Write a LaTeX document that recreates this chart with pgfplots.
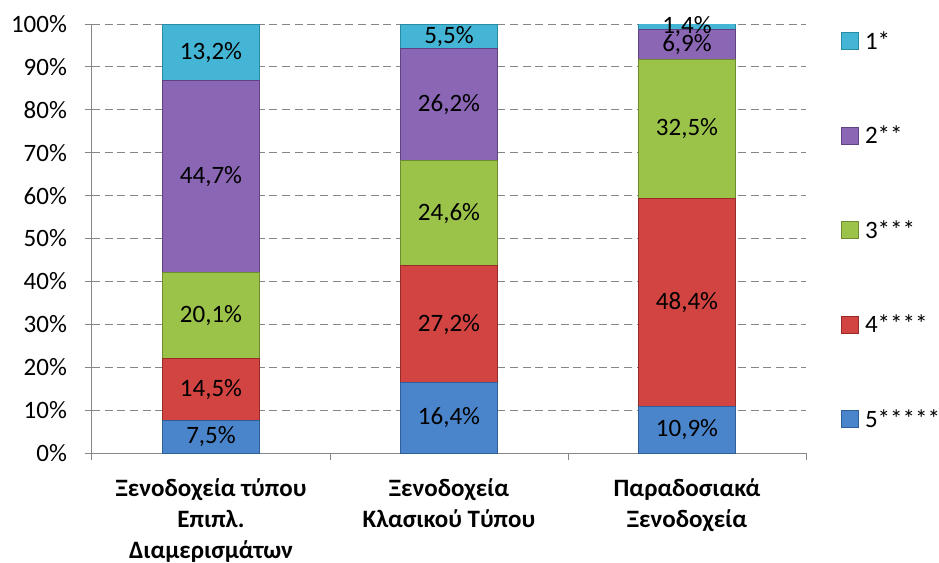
\documentclass[border=0pt]{standalone}
\usepackage{pgfplots}
\usepackage{pgfplotstable}
\pgfplotsset{compat=1.18}
\usepackage{fontspec}
\setmainfont{Carlito}
\definecolor{axgray}{HTML}{868686}
\definecolor{cOne}{HTML}{45B5D5}\definecolor{eOne}{HTML}{2A8BA6}
\definecolor{cTwo}{HTML}{8A66B5}\definecolor{eTwo}{HTML}{5E4380}
\definecolor{cThree}{HTML}{9BC34A}\definecolor{eThree}{HTML}{6E8B2F}
\definecolor{cFour}{HTML}{D14441}\definecolor{eFour}{HTML}{962B28}
\definecolor{cFive}{HTML}{4A85CB}\definecolor{eFive}{HTML}{2F5F98}
\pgfplotstableread{
x s5 s4 s3 s2 s1
0 7.5 14.5 20.1 44.7 13.2
1 16.4 27.2 24.6 26.2 5.5
2 10.9 48.4 32.5 6.9 1.4
}\data
\pgfplotstableread{
x y lab
0 3.75 7,5
0 14.75 14,5
0 32.05 20,1
0 64.45 44,7
0 93.4 13,2
1 8.2 16,4
1 30.0 27,2
1 55.9 24,6
1 81.3 26,2
1 97.15 5,5
2 5.45 10,9
2 35.1 48,4
2 75.55 32,5
2 95.25 6,9
2 99.4 1,4
}\labels
\begin{document}
\begin{tikzpicture}[font=\fontsize{18.75}{24.75}\selectfont]
\pgfplotsset{
  common/.style={
    scale only axis, width=535.5pt, height=321.75pt,
    xmin=-0.5, xmax=2.5, ymin=0, ymax=100,
  }
}
\begin{axis}[
  common, name=ax,
  ybar stacked, bar width=0.408,
  xtick={-0.5,0.5,1.5,2.5}, xticklabels={},
  extra x ticks={0,1,2},
  extra x tick labels={{Ξενοδοχεία τύπου\\Επιπλ.\\Διαμερισμάτων},{Ξενοδοχεία\\Κλασικού Τύπου},{Παραδοσιακά\\Ξενοδοχεία}},
  extra x tick style={major tick length=0pt, tick style={draw=none},
    xticklabel style={align=center, font=\fontsize{18.75}{23.5}\selectfont\bfseries, yshift=-15.5pt}},
  ytick={0,10,...,100},
  yticklabels={0\%,10\%,20\%,30\%,40\%,50\%,60\%,70\%,80\%,90\%,100\%},
  yticklabel style={xshift=-10pt},
  tick align=outside, major tick length=5.25pt,
  tick style={draw=axgray, line width=0.75pt},
  axis x line*=bottom, axis y line*=left,
  axis line style={draw=axgray, line width=0.75pt},
  ymajorgrids, grid style={draw=axgray, line width=0.75pt, dash pattern=on 6pt off 3.5pt},
  legend style={at={(rel axis cs:1.049,0.9814)}, anchor=north west, draw=none, fill=none,
    inner sep=0pt, row sep=57.55pt, column sep=4.5pt,
    nodes={inner sep=0pt, text height=11.85pt, text depth=0pt}},
  legend cell align=left,
  reverse legend,
  legend image code/.code={\draw[#1, line width=0.6pt] (0pt,-6.375pt) rectangle (12.75pt,6.375pt);},
]
\addplot[fill=cFive, draw=eFive, line width=0.75pt] table[x=x,y=s5]{\data};
\addlegendentry{5*****}
\addplot[fill=cFour, draw=eFour, line width=0.75pt] table[x=x,y=s4]{\data};
\addlegendentry{4****}
\addplot[fill=cThree, draw=eThree, line width=0.75pt] table[x=x,y=s3]{\data};
\addlegendentry{3***}
\addplot[fill=cTwo, draw=eTwo, line width=0.75pt] table[x=x,y=s2]{\data};
\addlegendentry{2**}
\addplot[fill=cOne, draw=eOne, line width=0.75pt] table[x=x,y=s1]{\data};
\addlegendentry{1*}
\end{axis}
\begin{axis}[common, hide axis]
\addplot[draw=none, mark=none, nodes near coords={\pgfplotspointmeta\%},
  point meta=explicit symbolic,
  nodes near coords style={anchor=center, inner sep=0pt, text=black}]
  table[x=x, y=y, meta=lab]{\labels};
\end{axis}
\pgfresetboundingbox
\path ([xshift=-69pt,yshift=-81.75pt]ax.south west) rectangle ([xshift=99.75pt,yshift=18pt]ax.north east);
\end{tikzpicture}
\end{document}
